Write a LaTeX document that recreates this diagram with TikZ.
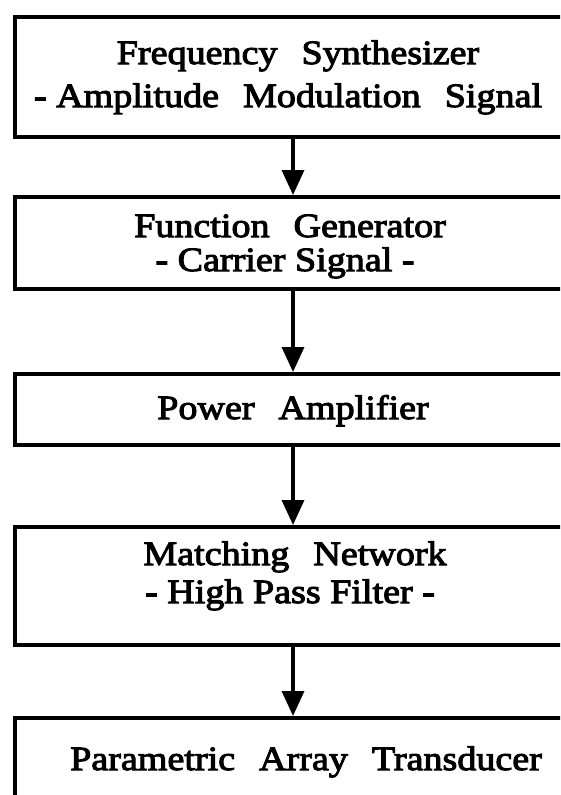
\documentclass[tikz,border=0pt]{standalone}
\usepackage{fontspec}
\newfontfamily\dfont[FakeStretch=1.12,FakeBold=3]{Liberation Serif}
\usetikzlibrary{arrows.meta}
\newcommand{\wsp}{\hspace{24pt}}
\begin{document}
\begin{tikzpicture}[x=1pt,y=-1pt,
  box/.style={draw, line width=4.2pt, minimum width=556pt, inner sep=0pt, anchor=north},
  lbl/.style={font=\dfont\fontsize{34}{38}\selectfont, anchor=base, inner sep=0pt},
  conn/.style={line width=3.5pt, -{Triangle[width=22pt,length=25pt]}}]
\useasboundingbox (0,0) rectangle (560,795);
\fill[white] (0,0) rectangle (560,795);
\begin{scope}
\clip (0,0) rectangle (560,795);
\node[box, minimum height=120pt] (b1) at (293,15) {};
\node[box, minimum height=92pt]  (b2) at (293,195) {};
\node[box, minimum height=71pt]  (b3) at (293,372) {};
\node[box, minimum height=118pt] (b4) at (293,525) {};
\node[box, minimum height=140pt] (b5) at (293,716) {};

\node[lbl] (t1a) at (298,64)  {Frequency\wsp Synthesizer};
\node[lbl] (t1b) at (288,107) {- Amplitude\wsp Modulation\wsp Signal};
\node[lbl] (t2a) at (290,237) {Function\wsp Generator};
\node[lbl] (t2b) at (285,271) {- Carrier Signal -};
\node[lbl] (t3)  at (293,419) {Power\wsp Amplifier};
\node[lbl] (t4a) at (295,565) {Matching\wsp Network};
\node[lbl] (t4b) at (290,603) {- High Pass Filter -};
\node[lbl] (t5)  at (306,770) {Parametric\wsp Array\wsp Transducer};

\draw[conn] (b1.south) -- (b2.north);
\draw[conn] (b2.south) -- (b3.north);
\draw[conn] (b3.south) -- (b4.north);
\draw[conn] (b4.south) -- (b5.north);
\end{scope}
\end{tikzpicture}
\end{document}
